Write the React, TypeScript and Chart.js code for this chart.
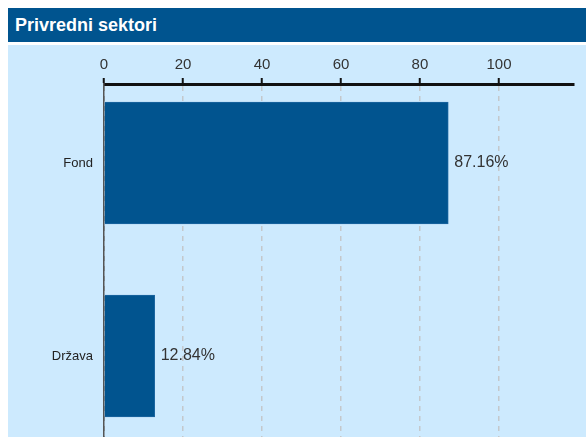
import React, { useEffect, useRef } from "react";
import { Chart, registerables } from "chart.js";

Chart.register(...registerables);

const title = "Privredni sektori";
const categories = ["Fond", "Država"];
const values = [87.16, 12.84];
const xTicks = [0, 20, 40, 60, 80, 100];

const FONT = "'Liberation Sans', Arial, sans-serif";

const valueLabels = {
  id: "valueLabels",
  afterDatasetsDraw(chart: any) {
    const ctx = chart.ctx;
    const meta = chart.getDatasetMeta(0);
    ctx.save();
    ctx.font = `16px ${FONT}`;
    ctx.fillStyle = "#333333";
    ctx.textAlign = "left";
    ctx.textBaseline = "middle";
    meta.data.forEach((bar: any, i: number) => {
      ctx.fillText(`${values[i].toFixed(2)}%`, bar.x + 6, bar.y);
    });
    ctx.restore();
  },
};

export default function App() {
  const ref = useRef<HTMLCanvasElement>(null);
  useEffect(() => {
    document.documentElement.style.overflow = "hidden";
    document.body.style.margin = "8px 0 0 8px";
    const chart = new Chart(ref.current!, {
      type: "bar",
      data: {
        datasets: [
          {
            data: categories.map((c, i) => ({ x: values[i], y: i })) as any,
            backgroundColor: "#01548f",
            borderColor: "#1d66a0",
            borderWidth: 1,
            barThickness: 122,
          },
        ],
      },
      options: {
        indexAxis: "y",
        animation: false,
        responsive: false,
        maintainAspectRatio: false,
        layout: { padding: { top: 0, left: 0, bottom: 0, right: 12 } },
        plugins: {
          legend: { display: false },
          tooltip: { enabled: false },
          title: { display: false },
        },
        scales: {
          x: {
            type: "linear",
            position: "top",
            min: 0,
            max: 119,
            afterBuildTicks: (scale: any) => {
              scale.ticks = xTicks.map((v) => ({ value: v }));
            },
            afterFit: (scale: any) => {
              scale.height = 39;
            },
            ticks: {
              font: { family: FONT, size: 15 },
              color: "#333333",
              padding: 4,
            },
            grid: {
              color: (c: any) => (c.tick && c.tick.value === 0 ? "#777777" : "#c4c8cc"),
              lineWidth: 1.5,
              tickColor: "#111111",
              tickWidth: 2,
              tickLength: 6,
            },
            border: {
              display: true,
              color: "#111111",
              width: 3,
              dash: [5, 5],
            },
          },
          y: {
            type: "linear",
            reverse: true,
            offset: false,
            min: -0.409,
            max: 1.461,
            afterBuildTicks: (scale: any) => {
              scale.ticks = categories.map((_, i) => ({ value: i }));
            },
            afterFit: (scale: any) => {
              scale.width = 96;
              scale.paddingTop = 0;
              scale.paddingBottom = 0;
            },
            ticks: {
              font: { family: FONT, size: 13 },
              color: "#222222",
              padding: 11,
              callback: (v: any) => categories[v as number] ?? "",
            },
            grid: { display: false, drawTicks: false },
            border: { display: true, color: "#555555", width: 1.5 },
          },
        },
      },
      plugins: [valueLabels],
    });
    return () => chart.destroy();
  }, []);

  return (
    <div style={{ width: 578 }}>
      <div
        style={{
          height: 34,
          background: "#00548f",
          color: "#ffffff",
          fontFamily: FONT,
          fontWeight: "bold",
          fontSize: 18,
          lineHeight: "34px",
          paddingLeft: 7,
          boxSizing: "border-box",
        }}
      >
        {title}
      </div>
      <div style={{ height: 3, background: "#ffffff" }} />
      <div style={{ height: 400, background: "#cdeafe" }}>
        <canvas ref={ref} width={578} height={400} style={{ display: "block" }} />
      </div>
    </div>
  );
}
